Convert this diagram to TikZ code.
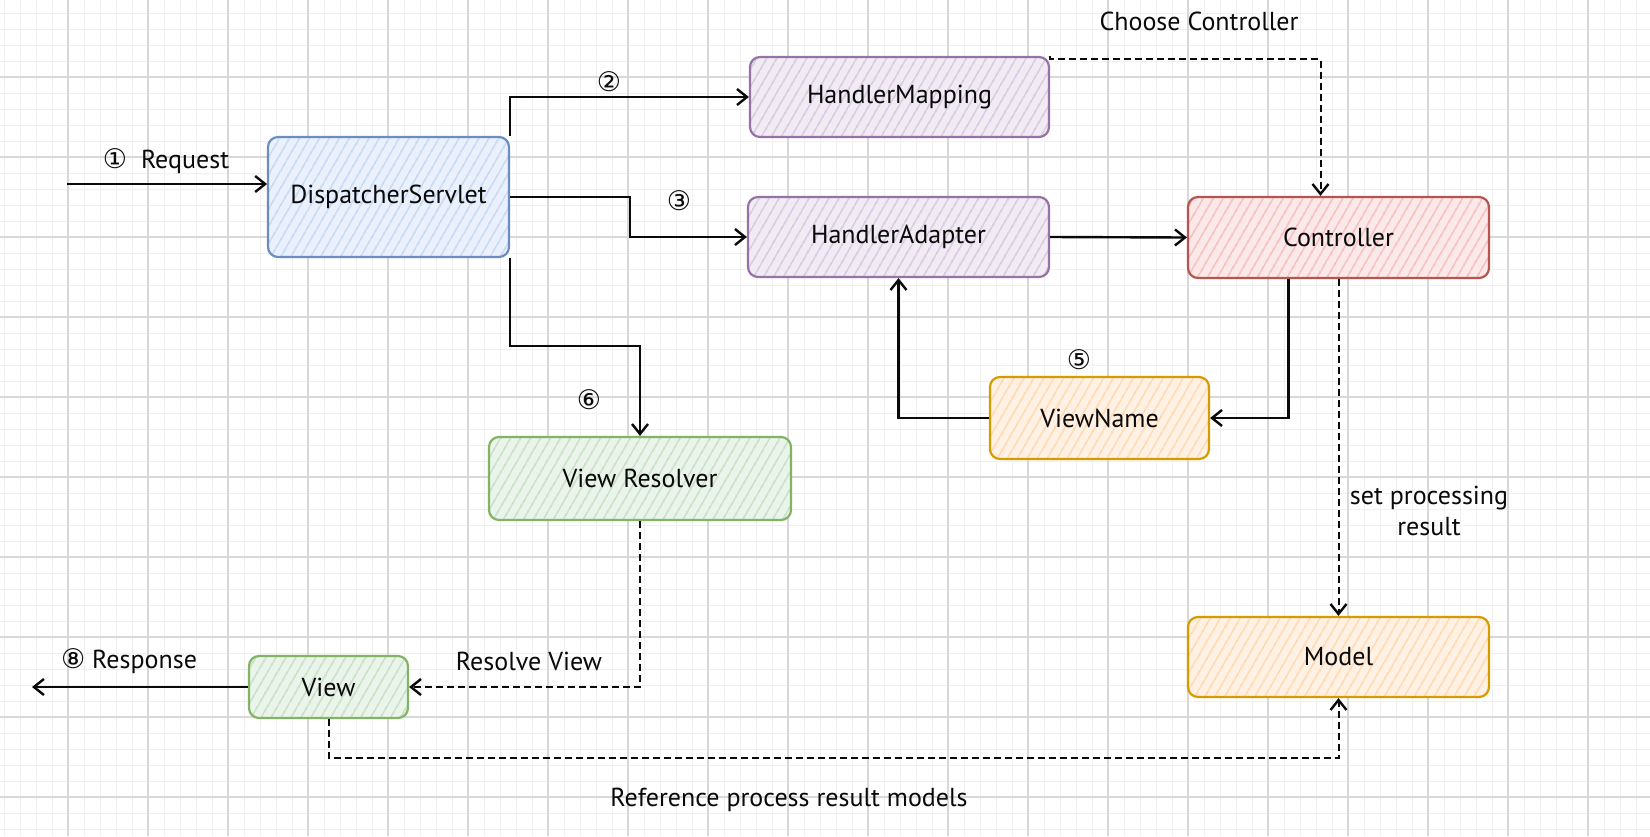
\documentclass[tikz,border=0pt]{standalone}
\usepackage{fontspec}
\setmainfont{PT Sans}
\newfontfamily\circfont{DejaVu Sans}
\newcommand{\circd}[1]{{\circfont\fontsize{13.5}{14}\selectfont #1}}
\usetikzlibrary{arrows.meta,patterns.meta}
\definecolor{dsline}{HTML}{6C8EBF}\definecolor{dsfill}{HTML}{C4D8F6}
\definecolor{puline}{HTML}{9673A6}\definecolor{pufill}{HTML}{D8C8E1}
\definecolor{reline}{HTML}{B85450}\definecolor{refill}{HTML}{F5BEBC}
\definecolor{orline}{HTML}{D79B00}\definecolor{orfill}{HTML}{FFD8B0}
\definecolor{grline}{HTML}{82B366}\definecolor{grfill}{HTML}{C6E0C3}
\definecolor{minorg}{HTML}{F0F0F0}\definecolor{majorg}{HTML}{D8D8D8}
\definecolor{ink}{HTML}{0A0A0A}
\begin{document}
\begin{tikzpicture}[x=0.5pt,y=-0.5pt,
  txt/.style={font=\fontsize{13}{15.5}\selectfont, text=ink},
  box/.style={txt, draw, line width=1.1pt, rounded corners=5pt, inner sep=0pt},
  hatch/.style 2 args={box, draw=#1, preaction={fill=#2!35}, pattern={Lines[angle=60,distance=4pt,line width=0.9pt]}, pattern color=#2},
  dsbox/.style={hatch={dsline}{dsfill}},
  pubox/.style={hatch={puline}{pufill}},
  rebox/.style={hatch={reline}{refill}},
  orbox/.style={hatch={orline}{orfill}},
  grbox/.style={hatch={grline}{grfill}},
  lbl/.style={txt, inner sep=0pt},
  arr/.style={draw=ink, line width=1.2pt, -{Straight Barb[length=5pt,width=8pt,line width=1.2pt]}},
  darr/.style={arr, line width=1pt, dash pattern=on 3.5pt off 2pt},
  minorgrid/.style={draw=minorg, line width=0.5pt},
  majorgrid/.style={draw=majorg, line width=0.6pt}
]
\useasboundingbox (0,0) rectangle (1650,836);
\fill[white] (0,0) rectangle (1650,836);
\foreach \x in {4,20,...,1650} \draw[minorgrid] (\x,0) -- (\x,836);
\foreach \y in {13,29,...,836} \draw[minorgrid] (0,\y) -- (1650,\y);
\foreach \x in {68,148,...,1650} \draw[majorgrid] (\x,0) -- (\x,836);
\foreach \y in {77,157,...,836} \draw[majorgrid] (0,\y) -- (1650,\y);

% nodes
\node[dsbox, minimum width=120.5pt, minimum height=60pt] (DS) at (388.5,197) {DispatcherServlet};
\node[pubox, minimum width=149.5pt, minimum height=40pt] (HM) at (899.5,97) {HandlerMapping};
\node[pubox, minimum width=150.5pt, minimum height=40pt] (HA) at (898.5,237) {HandlerAdapter};
\node[rebox, minimum width=150.5pt, minimum height=40.5pt] (CT) at (1338.5,237.5) {Controller};
\node[orbox, minimum width=109.5pt, minimum height=41pt] (VN) at (1099.5,418) {ViewName};
\node[orbox, minimum width=150.5pt, minimum height=40pt] (MD) at (1338.5,657) {Model};
\node[grbox, minimum width=151pt, minimum height=41.5pt] (VR) at (640,478.5) {View Resolver};
\node[grbox, minimum width=79.5pt, minimum height=31pt] (VW) at (328.5,687) {View};

% free ends
\coordinate (reqstart) at (67,184);
\coordinate (respend) at (32,687);

% connectors
\draw[arr] (reqstart) -- (reqstart -| DS.west);
\draw[arr] (DS.north east) |- (HM.west);
\draw[arr] (DS.east) -- ++(120,0) |- (HA.west);
\draw[arr] (DS.south east) -- ++(0,88) -| (VR.north);
\draw[arr] (HA.east) -- (CT.west);
\draw[darr] (HM.north east) -- ++(0,3) -| ([xshift=-9pt]CT.north);
\draw[arr] ([xshift=-25pt]CT.south) |- (VN.east);
\draw[arr] (VN.west) -| (HA.south);
\draw[darr] (CT.south) -- (MD.north);
\draw[darr] (VR.south) |- (VW.east);
\draw[arr] (VW.west) -- (respend);
\draw[darr] (VW.south) -- ++(0,39) -| (MD.south);

% labels
\node[lbl] (lreq) at (166,161) {\circd{①}\ \ Request};
\node[lbl] (l2) at (609,82) {\circd{②}};
\node[lbl] (l3) at (679,201) {\circd{③}};
\node[lbl] (l6) at (589,400) {\circd{⑥}};
\node[lbl] (l5) at (1079,360) {\circd{⑤}};
\node[lbl] (lchoose) at (1199,21) {Choose Controller};
\node[lbl, align=center] (lset) at (1429,511) {set processing\\result};
\node[lbl] (lres) at (529,661) {Resolve View};
\node[lbl] (lresp) at (129,661) {\circd{⑧} Response};
\node[lbl] (lref) at (789,800) {Reference process result models};
\end{tikzpicture}
\end{document}
